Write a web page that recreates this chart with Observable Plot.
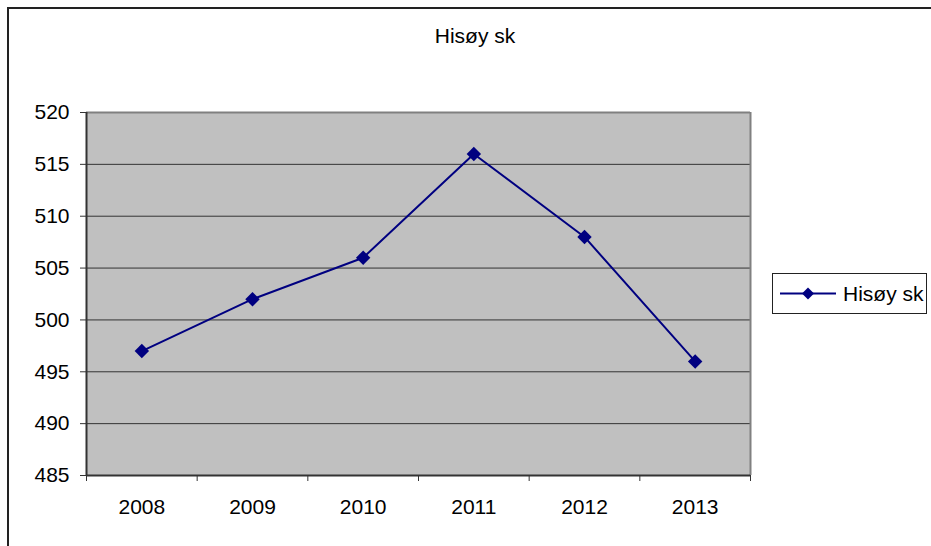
<!DOCTYPE html>
<html><head><meta charset="utf-8">
<script src="https://cdn.jsdelivr.net/npm/d3@7"></script>
<script src="https://cdn.jsdelivr.net/npm/@observablehq/plot@0.6"></script>
<style>
body{margin:0;background:#fff;font-family:"Liberation Sans",Arial,sans-serif;}
#wrap{position:relative;width:931px;height:546px;overflow:hidden;background:#fff;}
#frame{position:absolute;left:7px;top:7px;width:1000px;height:1000px;border-left:2px solid #222;border-top:2px solid #222;box-sizing:border-box;}
#title{position:absolute;left:375px;width:200px;top:25px;text-align:center;font-size:21px;line-height:21px;color:#000;}
#chart{position:absolute;left:0;top:0;}
#legend{position:absolute;left:772px;top:273px;}
</style>
</head><body>
<div id="wrap">
  <div id="frame"></div>
  <div id="chart"></div>
  <div id="title"></div>
  <div id="legend"></div>
</div>
<script>
const title = "Hisøy sk";
const seriesName = "Hisøy sk";
const years = [2008, 2009, 2010, 2011, 2012, 2013];
const values = [497, 502, 506, 516, 508, 496];
const yTicks = [485, 490, 495, 500, 505, 510, 515, 520];

const data = years.map((y, i) => ({year: y, value: values[i]}));
const bounds = [...years.map(y => y - 0.5), years[years.length - 1] + 0.5];
const navy = "#000080";

document.getElementById("title").textContent = title;

const chart = Plot.plot({
  width: 931, height: 546,
  marginLeft: 86, marginRight: 181, marginTop: 112, marginBottom: 71,
  style: {fontFamily: "'Liberation Sans', Arial, sans-serif", fontSize: "21px", color: "#000", background: "transparent", overflow: "visible"},
  x: {domain: [bounds[0], bounds[bounds.length - 1]], label: null},
  y: {domain: [yTicks[0], yTicks[yTicks.length - 1]], label: null},
  marks: [
    Plot.frame({fill: "#C0C0C0", stroke: null}),
    Plot.gridY(yTicks, {stroke: "#333", strokeOpacity: 1, strokeWidth: 1}),
    Plot.ruleY([yTicks[yTicks.length - 1]], {stroke: "#808080", strokeWidth: 2}),
    Plot.ruleX([bounds[bounds.length - 1]], {stroke: "#808080", strokeWidth: 2}),
    Plot.ruleX([bounds[0]], {stroke: "#333", strokeWidth: 2}),
    Plot.ruleY([yTicks[0]], {stroke: "#333", strokeWidth: 2}),
    Plot.axisY({ticks: yTicks, tickSize: 6, tickPadding: 11, tickFormat: d => String(d), stroke: "#333", fill: "#000", label: null}),
    Plot.axisX({ticks: bounds, tickSize: 6, tickFormat: () => "", stroke: "#333", label: null}),
    Plot.axisX({ticks: years, tickSize: 0, tickPadding: 24, tickFormat: d => String(d), fill: "#000", label: null}),
    Plot.line(data, {x: "year", y: "value", stroke: navy, strokeWidth: 2}),
    Plot.dot(data, {x: "year", y: "value", symbol: "diamond2", fill: navy, r: 6.5})
  ]
});
document.getElementById("chart").appendChild(chart);

// legend
const ns = "http://www.w3.org/2000/svg";
const lg = document.createElementNS(ns, "svg");
lg.setAttribute("width", 156); lg.setAttribute("height", 42);
lg.innerHTML = `
  <rect x="0.5" y="0.5" width="154" height="40" fill="#fff" stroke="#222" stroke-width="1"/>
  <line x1="8" x2="64" y1="20.5" y2="20.5" stroke="${navy}" stroke-width="2"/>
  <path d="M36,14.5 L42,20.5 L36,26.5 L30,20.5 Z" fill="${navy}"/>
  <text x="71" y="27.5" font-family="'Liberation Sans', Arial, sans-serif" font-size="21" fill="#000"></text>`;
lg.querySelector("text").textContent = seriesName;
document.getElementById("legend").appendChild(lg);
</script>
</body></html>
